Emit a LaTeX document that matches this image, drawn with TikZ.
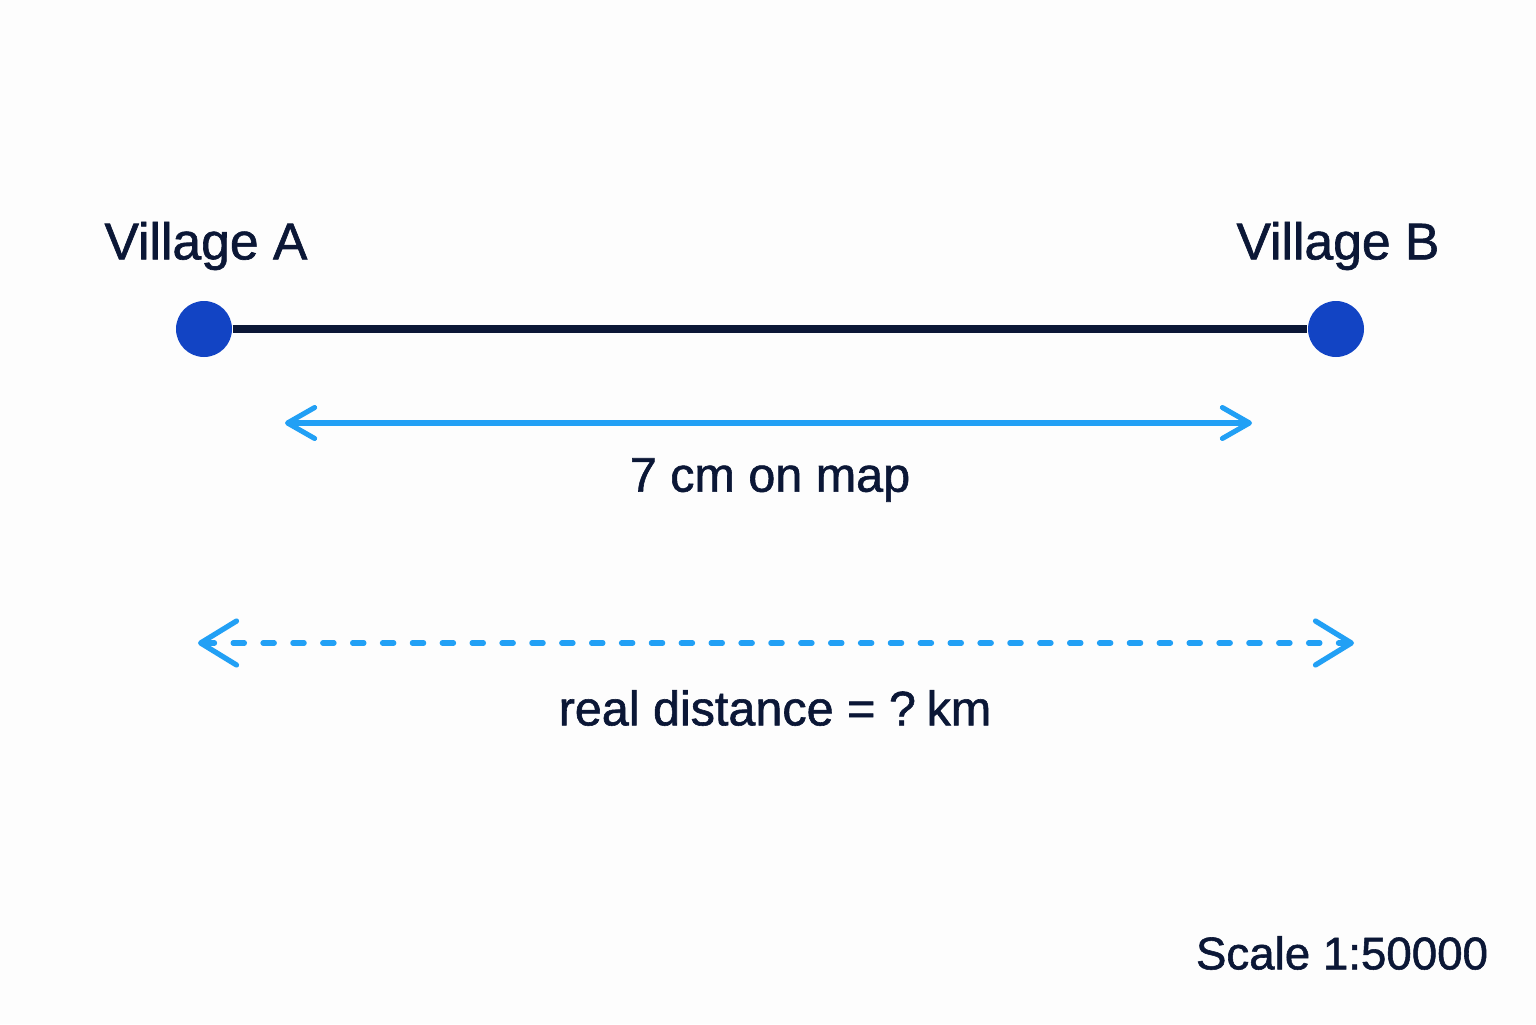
\documentclass[tikz,border=0pt]{standalone}
\usepackage{fontspec}
\setmainfont[FakeBold=1.2]{Liberation Sans}
\usetikzlibrary{arrows.meta}
\definecolor{ink}{HTML}{0B1736}
\definecolor{dotblue}{HTML}{1244C4}
\definecolor{arrowblue}{HTML}{22A0F5}
\definecolor{paper}{HTML}{FDFDFD}

\begin{document}
\begin{tikzpicture}[
    village/.style={%
        circle, fill=dotblue, inner sep=0pt, minimum size=0.56cm},
    label/.style={%
        text=ink, font=\fontsize{14.7}{17}\selectfont, inner sep=0pt},
    caption/.style={%
        label, font=\fontsize{13.8}{16}\selectfont},
    road/.style={%
        draw=ink, line width=2pt},
    mapdist/.style={%
        draw=arrowblue, line width=1.45pt, line cap=round,
        {Straight Barb[length=7.7pt,width=8.8pt,round]}-{Straight Barb[length=7.7pt,width=8.8pt,round]}},
    realdist/.style={%
        draw=arrowblue, line width=1.5pt, line cap=round,
        dash pattern=on 3.2pt off 5.3pt,
        {Straight Barb[length=10.2pt,width=12.5pt,round]}-{Straight Barb[length=10.2pt,width=12.5pt,round]}},
]
    \fill[paper] (0,0) rectangle (15.36,10.24);
    \useasboundingbox (0,0) rectangle (15.36,10.24);

    % Villages
    \node[village] (A) at (2.04,6.95) {};
    \node[village] (B) at (13.36,6.95) {};
    \node[label] (labelA) at (2.06,7.78) {Village A};
    \node[label] (labelB) at (13.38,7.78) {Village B};
    \draw[road] (A) -- (B);

    % Map distance
    \coordinate (m1) at (2.85,6.01);
    \coordinate (m2) at (12.52,6.01);
    \draw[mapdist] (m1) -- (m2);
    \node[caption] (map) at (7.70,5.44) {7 cm on map};

    % Real distance
    \coordinate (r1) at (1.98,3.81);
    \coordinate (r2) at (13.54,3.81);
    \draw[realdist] (r1) -- (r2);
    \node[caption] (real) at (7.75,3.16) {real distance = ?\hspace{0.22em}km};

    % Scale
    \node[label, font=\fontsize{13}{15}\selectfont] (scale) at (13.42,0.71) {Scale 1:50000};
\end{tikzpicture}
\end{document}
